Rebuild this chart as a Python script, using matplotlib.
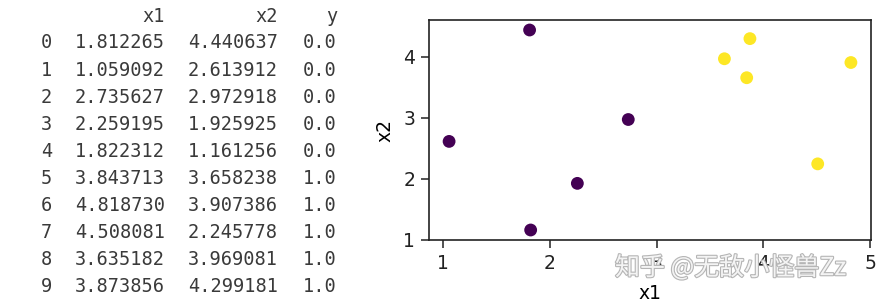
import matplotlib
matplotlib.use("Agg")
import matplotlib.pyplot as plt
import matplotlib.patheffects as pe

idx = list(range(10))
x1 = [1.812265, 1.059092, 2.735627, 2.259195, 1.822312,
      3.843713, 4.818730, 4.508081, 3.635182, 3.873856]
x2 = [4.440637, 2.613912, 2.972918, 1.925925, 1.161256,
      3.658238, 3.907386, 2.245778, 3.969081, 4.299181]
y = [0.0, 0.0, 0.0, 0.0, 0.0, 1.0, 1.0, 1.0, 1.0, 1.0]
columns = ["x1", "x2", "y"]
watermark = "知乎 @无敌小怪兽Zz"

W, H = 876, 303
fig = plt.figure(figsize=(W / 100, H / 100), dpi=100)

# DataFrame-like text table on the left (pixel coordinates)
tcol = "#3a3a3a"
mono = dict(family="DejaVu Sans Mono", fontsize=13.4, color=tcol)
col_right = [165, 278, 337]
header_y = 17
row_y0, row_dy = 43, 27.1
for cx, name in zip(col_right, columns):
    fig.text(cx / W, 1 - header_y / H, name, ha="right", va="center", **mono)
for i in idx:
    yy = 1 - (row_y0 + i * row_dy) / H
    fig.text(52 / W, yy, str(i), ha="right", va="center", **mono)
    fig.text(col_right[0] / W, yy, f"{x1[i]:.6f}", ha="right", va="center", **mono)
    fig.text(col_right[1] / W, yy, f"{x2[i]:.6f}", ha="right", va="center", **mono)
    fig.text(col_right[2] / W, yy, f"{y[i]:.1f}", ha="right", va="center", **mono)

# Scatter plot on the right
ax = fig.add_axes([429 / W, 1 - 240 / H, (871 - 429) / W, (240 - 20) / H])
ax.scatter(x1, x2, c=y, cmap="viridis", s=85, linewidths=0)
ax.set_xlabel("x1", fontsize=13.5, labelpad=8)
ax.set_ylabel("x2", fontsize=13.5, labelpad=6)
ax.set_xticks([1, 2, 3, 4, 5])
ax.set_yticks([1, 2, 3, 4])
ax.tick_params(labelsize=13.5, length=6, width=1.1, pad=4, colors="#222222")
for sp in ax.spines.values():
    sp.set_linewidth(1.2)
    sp.set_color("#222222")

fig.text(615 / W, 1 - 268 / H, watermark, ha="left", va="center",
         family=["Noto Sans CJK SC", "DejaVu Sans"], fontsize=18,
         color="#f4f4f4",
         path_effects=[pe.withStroke(linewidth=1.6, foreground="#b5b5b5")])

fig.savefig("out.png", dpi=100)
